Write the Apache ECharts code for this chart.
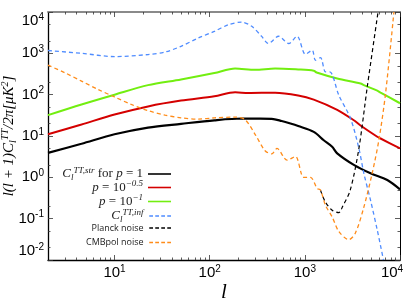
<!DOCTYPE html>
<html><head><meta charset="utf-8">
<script src="https://cdn.jsdelivr.net/npm/echarts@6/dist/echarts.min.js"></script>
<style>html,body{margin:0;padding:0;background:#fff}#c{width:409px;height:298px}</style>
</head><body><div id="c"></div>
<script>
// ---- data (multipole l, D_l in muK^2) ----
const strP1L = [2, 4.5, 10, 22.5, 50, 112, 217, 300, 449, 571, 706, 851, 1241, 1580, 1937, 2188, 3272, 4900, 7350, 10000];
const strP1V = [3.9, 6.5, 11, 16, 19.7, 24, 26.5, 26.3, 26, 23, 20, 17.4, 12.6, 7.9, 5.5, 3.8, 2.0, 1.25, 0.86, 0.51];

const strP05L = [2, 4.5, 10, 22.5, 50, 112, 185, 255, 487, 851, 1241, 2188, 3272, 3850, 5770, 6250, 10000];
const strP05V = [11, 19, 33, 52, 72, 91, 114, 110, 112, 96, 76, 43, 24, 18, 9.6, 8.7, 5.0];

const strP01L = [2, 4.5, 10, 22.5, 50, 112, 185, 300, 487, 851, 1241, 1330, 2188, 3850, 4170, 5770, 6250, 10000];
const strP01V = [32, 58, 100, 170, 233, 333, 430, 398, 430, 407, 380, 345, 247, 187, 170, 125, 112, 62];

const infL = [2, 4.5, 10, 22.5, 34, 50, 76, 112, 157, 217, 277, 352, 414, 531, 677, 829, 1014, 1194, 1294, 1460, 1648, 1829, 2275, 3020, 3700, 4170, 4900, 5770, 6700];
const infV = [1170, 1000, 835, 935, 1075, 1480, 2350, 3400, 4900, 5700, 4500, 2570, 1730, 2590, 1730, 2590, 950, 1190, 680, 790, 356, 356, 97, 26.6, 5.0, 1.25, 0.28, 0.053, 0.01];

const planckL = [1460, 1648, 1937, 2275, 2500, 3000, 3700, 4530, 5880];
const planckV = [0.49, 0.25, 0.16, 0.14, 0.2, 0.49, 5.0, 155, 10000];

const cmbpolL = [2, 3, 4.5, 6.7, 10, 15, 22.5, 34, 50, 76, 112, 185, 235, 300, 382, 449, 510, 651, 796, 973, 1146, 1346, 1460, 1648, 1937, 2275, 2900, 3400, 4170, 5100, 6000, 7050, 8630];
const cmbpolV = [516, 340, 213, 134, 88, 58, 41, 32, 27.5, 25.6, 27.5, 28.6, 25, 11, 4.4, 3.7, 5.0, 2.6, 3.2, 1.0, 1.0, 0.54, 0.49, 0.21, 0.11, 0.049, 0.031, 0.045, 0.19, 1.25, 8, 107, 10000];

const xMajor = [10, 100, 1000, 10000];
const xMinor = [3, 4, 5, 6, 7, 8, 9, 20, 30, 40, 50, 60, 70, 80, 90, 200, 300, 400, 500, 600, 700, 800, 900, 2000, 3000, 4000, 5000, 6000, 7000, 8000, 9000];
const yMajor = [0.01, 0.1, 1, 10, 100, 1000, 10000];
const yMinor = [0.02, 0.05, 0.2, 0.5, 2, 5, 20, 50, 200, 500, 2000, 5000];

const names = ['str1', 'str05', 'str01', 'inf', 'planck', 'cmbpol'];
const legendLabels = {
  str1: '{i|C}{sub|l}{sup|TT,str}{t| for }{i|p}{t| = 1}',
  str05: '{i|p}{t| = 10}{sup|−0.5}',
  str01: '{i|p}{t| = 10}{sup|−1}',
  inf: '{i|C}{sub|l}{sup|TT,inf}',
  planck: 'Planck noise',
  cmbpol: 'CMBpol noise'
};
const legendDashed = {str1: false, str05: false, str01: false, inf: true, planck: true, cmbpol: true};

const zip = (a, b) => a.map((v, i) => [v, b[i]]);

const serif = 'Liberation Serif';
const sans = 'Liberation Sans';

const legendRich = {
  i: {fontFamily: serif, fontStyle: 'italic', fontSize: 13, color: '#222', lineHeight: 16},
  t: {fontFamily: serif, fontSize: 13, color: '#222', lineHeight: 16},
  sup: {fontFamily: serif, fontStyle: 'italic', fontSize: 9, color: '#222', lineHeight: 9, verticalAlign: 'top'},
  sub: {fontFamily: serif, fontStyle: 'italic', fontSize: 9, color: '#222', lineHeight: 8, verticalAlign: 'bottom'}
};

const dashPath = 'path://M0,0h5v2h-5z M8,0h5v2h-5z M16,0h5v2h-5z M24,0h5v2h-5z';
const solidPath = 'path://M0,0h29v2h-29z';

const legendY = [174, 187.5, 201.5, 216, 231.5, 246];
const legends = names.map((n, k) => ({
  data: [n],
  right: 238,
  top: legendY[k] - 8,
  align: 'right',
  orient: 'vertical',
  padding: 0,
  itemWidth: 23,
  itemHeight: legendDashed[n] ? 1.5 : 2.2,
  icon: legendDashed[n] ? dashPath : solidPath,
  formatter: nm => legendLabels[nm],
  textStyle: {fontFamily: 'Open Sans', fontSize: 9, color: '#222', rich: legendRich}
}));

const tickLabelFmt = v => {
  const e = Math.round(Math.log10(v));
  return '{b|10}{s|' + e + '}' + (v >= 10000 ? '{pad|}' : '');
};
const labelRich = {
  b: {fontFamily: sans, fontSize: 15, color: '#000', lineHeight: 18},
  s: {fontFamily: sans, fontSize: 10, color: '#000', lineHeight: 11, verticalAlign: 'top'},
  pad: {width: 16, lineHeight: 18}
};
const yLabelRich = {
  b: labelRich.b,
  s: labelRich.s,
  pad: {width: 0}
};

function xAx(pos, major, show) {
  return {
    type: 'log', logBase: 10, min: 2, max: 10000, position: pos,
    axisLine: {show: major, onZero: false, lineStyle: pos === 'top' ? {color: '#8a8a8a', width: 2} : {color: '#000', width: 1.3}},
    axisTick: {show: true, inside: true, length: major ? 5 : 2.5, customValues: major ? xMajor : xMinor, lineStyle: {color: '#333', width: 0.8}},
    axisLabel: show ? {show: true, customValues: xMajor, formatter: tickLabelFmt, rich: labelRich, margin: 4} : {show: false},
    splitLine: {show: false},
    minorTick: {show: false},
    name: show ? 'l' : '',
    nameLocation: 'middle', nameGap: 22, nameMoveOverlap: false,
    nameTextStyle: {fontFamily: serif, fontStyle: 'italic', fontSize: 21, color: '#000'}
  };
}
function yAx(pos, major, show) {
  return {
    type: 'log', logBase: 10, min: 0.01, max: 10000, position: pos,
    axisLine: {show: major, onZero: false, lineStyle: {color: '#000', width: pos === 'left' ? 1.3 : 1}},
    axisTick: {show: true, inside: true, length: major ? 5 : 2.5, customValues: major ? yMajor : yMinor, lineStyle: {color: '#333', width: 0.8}},
    axisLabel: show ? {show: true, customValues: yMajor, formatter: tickLabelFmt, rich: yLabelRich, margin: 4,
      verticalAlignMinLabel: 'bottom', verticalAlignMaxLabel: 'top'} : {show: false},
    splitLine: {show: false},
    minorTick: {show: false},
    name: show ? '{i|l(l + 1)C}{sub|l}{sup|TT}{i|/2π[μK}{sup|2}{i|]}' : '',
    nameLocation: 'middle', nameGap: 30, nameRotate: 90, nameMoveOverlap: false,
    nameTextStyle: {rich: {
      i: {fontFamily: serif, fontStyle: 'italic', fontSize: 15, color: '#000', lineHeight: 18},
      sup: {fontFamily: serif, fontStyle: 'italic', fontSize: 10, color: '#000', lineHeight: 10, verticalAlign: 'top'},
      sub: {fontFamily: serif, fontStyle: 'italic', fontSize: 10, color: '#000', lineHeight: 9, verticalAlign: 'bottom'}
    }}
  };
}

const lineSeries = (name, L, V, color, width, type) => ({
  name, type: 'line', data: zip(L, V), symbol: 'none', smooth: 0.3, clip: true,
  xAxisIndex: 0, yAxisIndex: 0,
  lineStyle: {color, width, type: type || 'solid'},
  itemStyle: {color},
  animation: false
});

const chart = echarts.init(document.getElementById('c'), null, {renderer: 'canvas'});
chart.setOption({
  animation: false,
  backgroundColor: '#fff',
  grid: {left: 48, right: 9, top: 12, bottom: 38, containLabel: false, outerBoundsMode: 'none'},
  legend: legends,
  xAxis: [xAx('bottom', true, true), xAx('bottom', false, false), xAx('top', true, false), xAx('top', false, false)],
  yAxis: [yAx('left', true, true), yAx('left', false, false), yAx('right', true, false), yAx('right', false, false)],
  series: [
    lineSeries('str1', strP1L, strP1V, '#000000', 2.2),
    lineSeries('str05', strP05L, strP05V, '#d40000', 2),
    lineSeries('str01', strP01L, strP01V, '#72ee10', 2),
    lineSeries('inf', infL, infV, '#4f8cff', 1.3, [4, 3]),
    lineSeries('planck', planckL, planckV, '#000000', 1.2, [4, 3]),
    lineSeries('cmbpol', cmbpolL, cmbpolV, '#ff8c1a', 1.3, [4, 3])
  ]
});
</script></body></html>
